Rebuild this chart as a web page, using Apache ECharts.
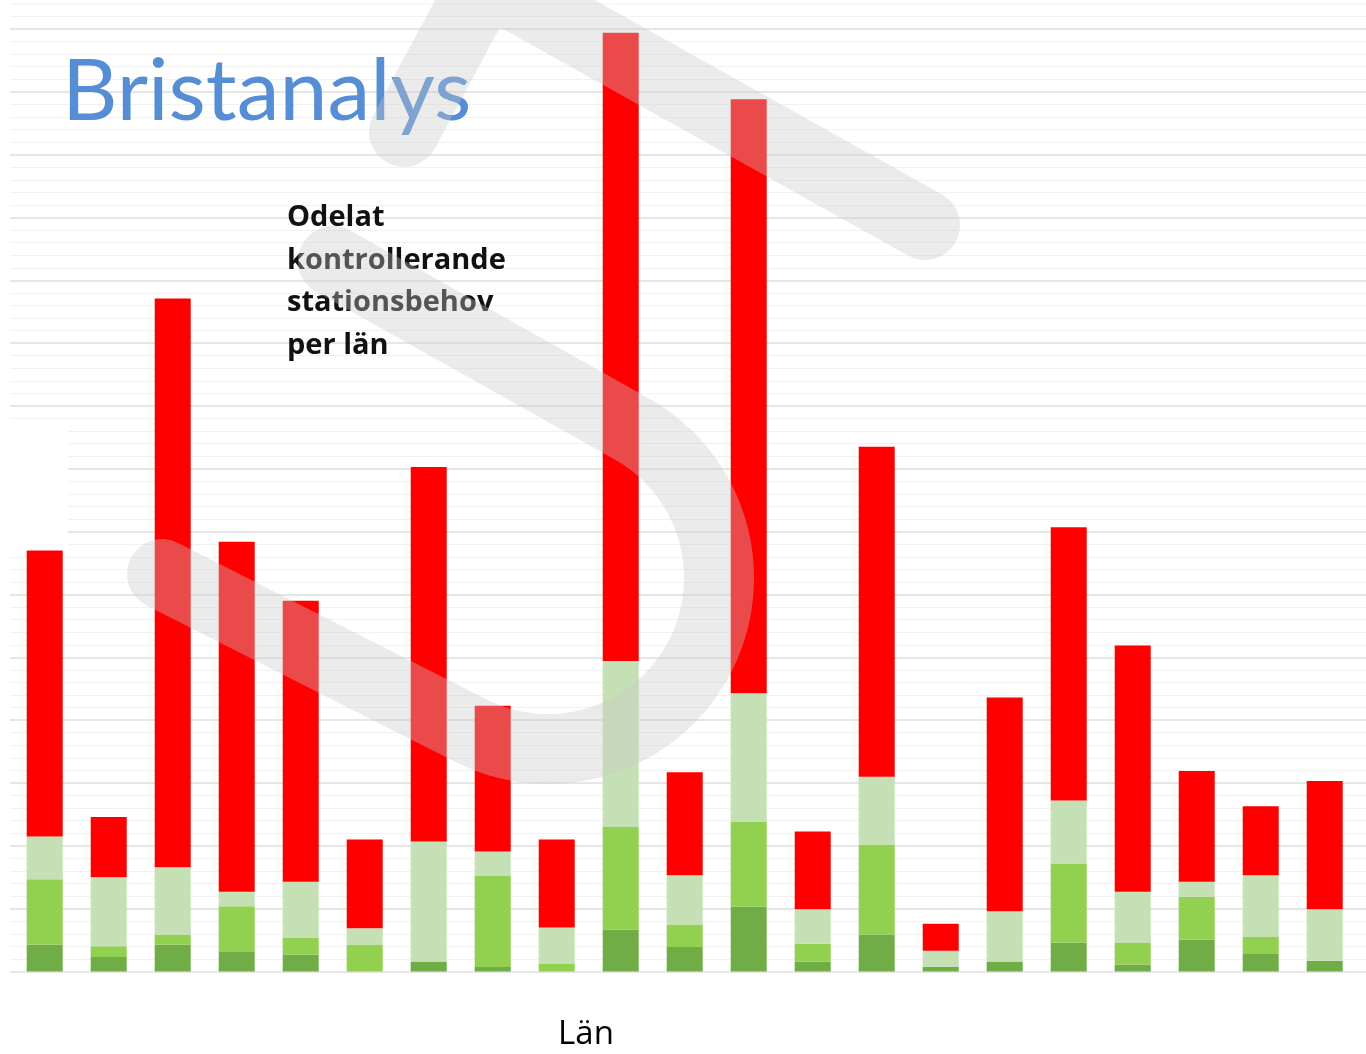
<!DOCTYPE html>
<html>
<head>
<meta charset="utf-8">
<script src="https://cdn.jsdelivr.net/npm/echarts@6/dist/echarts.min.js"></script>
<style>
html,body{margin:0;padding:0;background:#ffffff;}
#chart{width:1366px;height:1054px;}
</style>
</head>
<body>
<div id="chart"></div>
<script>
// Categories (counties, labels hidden in the original picture)
const categories = ['Stockholm','Uppsala','Södermanland','Östergötland','Jönköping','Kronoberg','Kalmar',
  'Gotland','Blekinge','Skåne','Halland','Västra Götaland','Värmland','Örebro','Västmanland',
  'Dalarna','Gävleborg','Västernorrland','Jämtland','Västerbotten','Norrbotten'];

// Stacked segments, bottom to top
const darkGreen   = [4.3, 2.3, 4.3, 3.1, 2.7, 0,   1.6, 0.7, 0,   6.7,  3.9, 10.3, 1.6, 5.9, 0.7, 1.6, 4.6, 1.1, 5.1, 2.8, 1.7];
const mediumGreen = [10.4,1.7, 1.5, 7.3, 2.7, 4.3, 0,   14.5,1.2, 16.3, 3.6, 13.5, 2.8, 14.3,0,   0,   12.6,3.5, 6.8, 2.7, 0];
const lightGreen  = [6.8, 11.0,10.8,2.3, 8.9, 2.6, 19.1,3.9, 5.8, 26.4, 7.8, 20.5, 5.5, 10.8,2.6, 8.0, 10.0,8.1, 2.4, 9.8, 8.2];
const redGap      = [45.5,9.6, 90.5,55.7,44.7,14.1,59.6,23.2,14.0,100.0,16.4,94.5, 12.4,52.5,4.3, 34.0,43.5,39.2,17.6,11.0,20.4];

const seriesNames = ['Nivå 1', 'Nivå 2', 'Nivå 3', 'Odelat behov'];
const titleText = 'Bristanalys';
const noteLines = ['Odelat', 'kontrollerande', 'stationsbehov', 'per län'];
const xAxisTitle = 'Län';

const Y_MIN = 0, Y_MAX = 150, Y_INTERVAL = 10;

const chart = echarts.init(document.getElementById('chart'));
const TOP = 29, BOTTOM = 82.5;

// Decorative background watermark ("S" logo) geometry, in pixels
function arcPoints(cx, cy, r, a0, a1, step) {
  const pts = [];
  const n = Math.ceil(Math.abs(a1 - a0) / step);
  for (let i = 0; i <= n; i++) {
    const a = (a0 + (a1 - a0) * i / n) * Math.PI / 180;
    pts.push([cx + r * Math.cos(a), cy + r * Math.sin(a)]);
  }
  return pts;
}
const wmL = [[404, 132], [486, -20.7], [925, 225]];
const wmS = [[333, 261]].concat(arcPoints(548, 578, 171, -60.8, 117, 2)).concat([[162, 574]]);

const wmStyle = {
  fill: null,
  stroke: 'rgba(200,200,200,0.37)',
  lineWidth: 70,
  lineCap: 'round',
  lineJoin: 'round'
};

function barSeries(name, data, color) {
  return {
    name: name,
    type: 'bar',
    stack: 'total',
    xAxisIndex: 0,
    yAxisIndex: 0,
    barWidth: 36,
    data: data,
    itemStyle: { color: color },
    emphasis: { disabled: true }
  };
}

const noteY = [218, 261, 303, 346];

const option = {
  animation: false,
  backgroundColor: '#ffffff',
  grid: [
    { left: 12.7, right: 9.3, top: TOP, bottom: BOTTOM },
    { left: 10, right: 0, top: TOP, bottom: BOTTOM }
  ],
  xAxis: [
    { type: 'category', data: categories, gridIndex: 0, show: false },
    { type: 'value', gridIndex: 1, min: 0, max: 1, show: false }
  ],
  yAxis: [
    { type: 'value', gridIndex: 0, min: Y_MIN, max: Y_MAX, interval: Y_INTERVAL, show: false },
    {
      type: 'value', gridIndex: 1, min: Y_MIN, max: Y_MAX, interval: Y_INTERVAL,
      axisLabel: { show: false }, axisLine: { show: false }, axisTick: { show: false },
      splitLine: { show: true, lineStyle: { color: '#DEDEDE', width: 1.5 } },
      minorTick: { show: false, splitNumber: 5 },
      minorSplitLine: { show: true, lineStyle: { color: '#F1F1F1', width: 1 } }
    }
  ],
  series: [
    barSeries(seriesNames[0], darkGreen, '#70AD47'),
    barSeries(seriesNames[1], mediumGreen, '#92D050'),
    barSeries(seriesNames[2], lightGreen, '#C5E0B4'),
    barSeries(seriesNames[3], redGap, '#FF0000')
  ],
  graphic: [
    { type: 'line', z: 1, shape: { x1: 10, y1: 16.5, x2: 1366, y2: 16.5 }, style: { stroke: '#F1F1F1', lineWidth: 1 } },
    { type: 'line', z: 1, shape: { x1: 10, y1: 4, x2: 1366, y2: 4 }, style: { stroke: '#F1F1F1', lineWidth: 1 } },
    { type: 'rect', z: 1, shape: { x: 0, y: 430, width: 68, height: 118 }, style: { fill: '#ffffff' } },
    { type: 'text', z: 50, x: 62, y: 92,
      style: { text: titleText, fill: '#558ED5', font: '86px Lato', verticalAlign: 'middle', align: 'left' } },
    ...noteLines.map((t, i) => ({
      type: 'text', z: 50, x: 287, y: noteY[i],
      style: { text: t, fill: '#111111', font: 'bold 29px "Open Sans"', verticalAlign: 'middle', align: 'left' }
    })),
    { type: 'text', z: 50, x: 586, y: 1035,
      style: { text: xAxisTitle, fill: '#000000', font: '33px "Open Sans"', verticalAlign: 'middle', align: 'center' } },
    { type: 'polyline', z: 100, shape: { points: wmL }, style: wmStyle },
    { type: 'polyline', z: 100, shape: { points: wmS }, style: wmStyle }
  ]
};

chart.setOption(option);
</script>
</body>
</html>
